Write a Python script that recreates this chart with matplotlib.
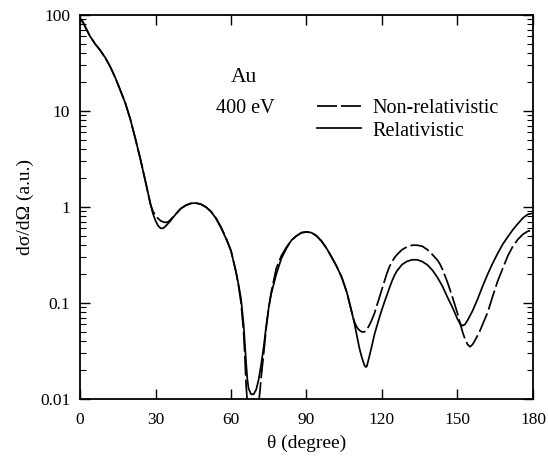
import matplotlib
matplotlib.use("Agg")
import matplotlib.pyplot as plt
from matplotlib.ticker import LogLocator, NullFormatter, FixedLocator, FixedFormatter

plt.rcParams['font.family'] = ['Liberation Serif', 'DejaVu Serif']
plt.rcParams['mathtext.fontset'] = 'stix'

# ---- data ----
common_theta = [0, 1, 2, 4, 6, 8, 10, 12, 14, 16, 18, 20, 22, 24, 26, 28]
common_sigma = [92, 86, 76, 60, 50, 43, 36, 29, 22.3, 16.5, 12.1, 8.2, 5.15, 3.15, 1.85, 1.07]

theta_rel = common_theta + [29, 30, 31, 32, 33, 34, 36, 38, 40, 42, 44, 46, 48, 50, 52, 54, 56, 58, 60,
                            62, 63, 64, 65, 65.5, 66, 66.5, 67, 68, 69, 70, 71, 72, 73, 74, 75, 76, 78,
                            80, 82, 84, 86, 88, 90, 92, 94, 96, 98, 100, 102, 104, 106, 108, 109, 110,
                            111, 112, 113, 113.6, 114, 115, 116, 117, 118, 119, 120, 121, 122, 123, 124,
                            125, 126, 128, 130, 132, 134, 136, 138, 140, 142, 144, 146, 148, 150, 151,
                            152, 153, 154, 156, 158, 160, 162, 164, 166, 168, 170, 172, 174, 176, 178, 180]
sigma_rel = common_sigma + [0.85, 0.72, 0.64, 0.6, 0.6, 0.63, 0.72, 0.84, 0.96, 1.04, 1.09, 1.1, 1.07, 1.0,
                            0.9, 0.76, 0.61, 0.47, 0.35,
                            0.21, 0.155, 0.11, 0.06, 0.038, 0.024, 0.016, 0.0128, 0.0112, 0.0112, 0.0125,
                            0.016, 0.023, 0.035, 0.058, 0.09, 0.125, 0.2,
                            0.29, 0.37, 0.45, 0.5, 0.54, 0.55, 0.54, 0.5, 0.44, 0.37, 0.3, 0.24, 0.185,
                            0.13, 0.08, 0.062, 0.046,
                            0.034, 0.027, 0.0225, 0.0215, 0.022, 0.028, 0.036, 0.047, 0.058, 0.071, 0.086,
                            0.103, 0.122, 0.145, 0.17,
                            0.195, 0.217, 0.252, 0.272, 0.282, 0.282, 0.27, 0.25, 0.22, 0.185, 0.15, 0.115,
                            0.09, 0.068, 0.061,
                            0.058, 0.06, 0.066, 0.083, 0.11, 0.15, 0.2, 0.26, 0.33, 0.41, 0.49, 0.58, 0.67,
                            0.77, 0.84, 0.86]

theta_nonrel = common_theta + [29, 30, 31, 32, 33, 34, 35, 36, 38, 40, 42, 44, 46, 48, 50, 52, 54, 56, 58,
                               60, 62, 63, 64, 65, 65.5, 66, 67, 68, 69, 70, 71, 71.5, 72, 73, 74, 75, 76,
                               78, 80, 82, 84, 86, 88, 90, 92, 94, 96, 98, 100, 102, 104, 106, 108, 109,
                               110, 111, 112, 113, 114, 115, 116, 117, 118, 119, 120, 121, 122, 123, 124,
                               125, 126, 128, 130, 132, 134, 136, 138, 140, 142, 143, 144, 146, 148, 150,
                               151, 152, 153, 154, 155, 156, 157, 158, 159, 160, 162, 163, 164, 166, 168,
                               170, 172, 174, 176, 178, 180]
sigma_nonrel = common_sigma + [0.9, 0.82, 0.76, 0.72, 0.7, 0.69, 0.7, 0.74, 0.84, 0.96, 1.04, 1.09, 1.1,
                               1.07, 1.0, 0.9, 0.77, 0.62, 0.48,
                               0.35, 0.21, 0.15, 0.1, 0.05, 0.028, 0.014, 0.006, 0.004, 0.004, 0.006, 0.009,
                               0.012, 0.017, 0.03, 0.055, 0.09, 0.13,
                               0.23, 0.31, 0.38, 0.45, 0.5, 0.54, 0.55, 0.54, 0.5, 0.44, 0.37, 0.3, 0.24,
                               0.185, 0.13, 0.08, 0.064,
                               0.056, 0.052, 0.05, 0.05, 0.053, 0.059, 0.067, 0.078, 0.095, 0.115, 0.14,
                               0.17, 0.205, 0.24, 0.27,
                               0.297, 0.32, 0.36, 0.385, 0.4, 0.4, 0.39, 0.36, 0.32, 0.28, 0.255, 0.225,
                               0.165, 0.115, 0.078,
                               0.062, 0.05, 0.042, 0.037, 0.035, 0.037, 0.041, 0.046, 0.052, 0.06, 0.08,
                               0.097, 0.118, 0.17, 0.23,
                               0.31, 0.39, 0.46, 0.52, 0.56, 0.575]

x_ticks = [0, 30, 60, 90, 120, 150, 180]
y_ticks = [0.01, 0.1, 1, 10, 100]
y_ticklabels = ['0.01', '0.1', '1', '10', '100']

# ---- figure ----
fig = plt.figure(figsize=(5.48, 4.68), dpi=100)
ax = fig.add_axes([80 / 548, 1 - 399 / 468, 453 / 548, 384 / 468])

ax.plot(theta_nonrel, sigma_nonrel, color='black', lw=1.25, dashes=(11.5, 2.3),
        label='Non-relativistic')
ax.plot(theta_rel, sigma_rel, color='black', lw=1.25, label='Relativistic')

ax.set_yscale('log')
ax.set_xlim(0, 180)
ax.set_ylim(0.01, 100)

ax.xaxis.set_major_locator(FixedLocator(x_ticks))
ax.yaxis.set_major_locator(FixedLocator(y_ticks))
ax.yaxis.set_major_formatter(FixedFormatter(y_ticklabels))
ax.yaxis.set_minor_locator(LogLocator(base=10, subs=range(2, 10)))
ax.yaxis.set_minor_formatter(NullFormatter())

ax.tick_params(axis='both', which='major', direction='in', length=7, width=1.0,
               top=True, right=True, labelsize=12.5, pad=7)
ax.tick_params(axis='y', which='minor', direction='in', length=4, width=0.8,
               left=True, right=True)
ax.tick_params(axis='x', which='major', pad=9)

for s in ax.spines.values():
    s.set_linewidth(1.3)

ax.set_xlabel('θ (degree)', fontsize=14, labelpad=5)
ax.set_ylabel('dσ/dΩ (a.u.)', fontsize=14, labelpad=4)

ax.text(0.361, 0.838, 'Au', transform=ax.transAxes, ha='center', va='center', fontsize=15.5)
ax.text(0.364, 0.757, '400 eV', transform=ax.transAxes, ha='center', va='center', fontsize=14.5)

leg = ax.legend(loc='upper left', bbox_to_anchor=(0.523, 0.782), frameon=False,
                fontsize=14.5, handlelength=2.2, handletextpad=0.55, labelspacing=0.18,
                borderpad=0, borderaxespad=0)

fig.savefig('out.png', dpi=100)
